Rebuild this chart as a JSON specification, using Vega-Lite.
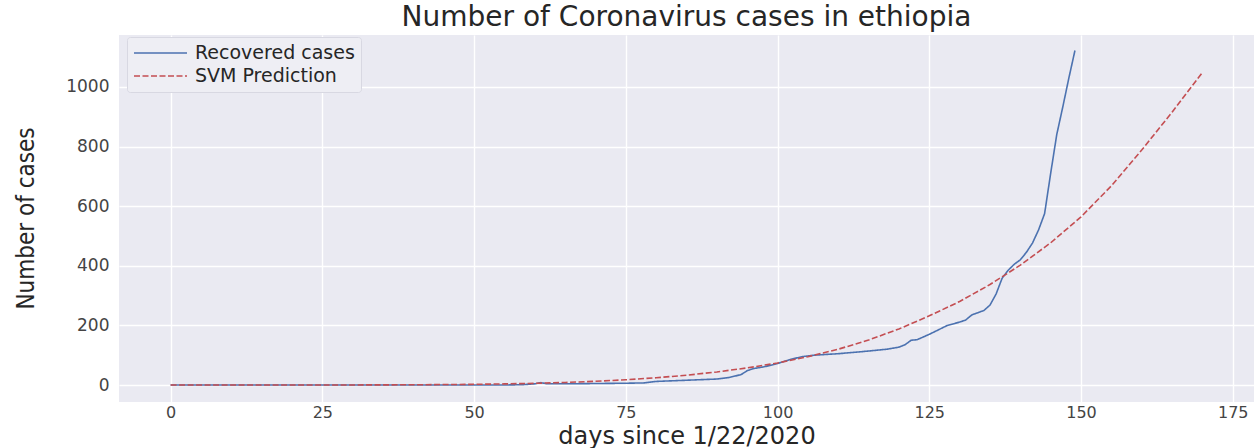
{
  "$schema": "https://vega.github.io/schema/vega-lite/v6.json",
  "autosize": {"type": "none"},
  "padding": {"left": 119, "top": 35, "right": 3, "bottom": 46},
  "width": 1135,
  "height": 367,
  "background": "#ffffff",
  "title": {
    "text": "Number of Coronavirus cases in ethiopia",
    "font": "DejaVu Sans",
    "fontSize": 28,
    "fontWeight": "normal",
    "color": "#262626",
    "anchor": "middle",
    "baseline": "alphabetic",
    "offset": 1,
    "dy": 20
  },
  "data": {
    "values": [
      {"day": 0, "cases": 0, "series": "Recovered cases"},
      {"day": 20, "cases": 0, "series": "Recovered cases"},
      {"day": 40, "cases": 0, "series": "Recovered cases"},
      {"day": 55, "cases": 0, "series": "Recovered cases"},
      {"day": 58, "cases": 1, "series": "Recovered cases"},
      {"day": 60, "cases": 4, "series": "Recovered cases"},
      {"day": 61, "cases": 8, "series": "Recovered cases"},
      {"day": 62, "cases": 4, "series": "Recovered cases"},
      {"day": 65, "cases": 4, "series": "Recovered cases"},
      {"day": 70, "cases": 5, "series": "Recovered cases"},
      {"day": 75, "cases": 6, "series": "Recovered cases"},
      {"day": 78, "cases": 7, "series": "Recovered cases"},
      {"day": 80, "cases": 12, "series": "Recovered cases"},
      {"day": 85, "cases": 16, "series": "Recovered cases"},
      {"day": 90, "cases": 20, "series": "Recovered cases"},
      {"day": 92, "cases": 25, "series": "Recovered cases"},
      {"day": 94, "cases": 35, "series": "Recovered cases"},
      {"day": 95, "cases": 48, "series": "Recovered cases"},
      {"day": 96, "cases": 55, "series": "Recovered cases"},
      {"day": 98, "cases": 62, "series": "Recovered cases"},
      {"day": 100, "cases": 72, "series": "Recovered cases"},
      {"day": 102, "cases": 85, "series": "Recovered cases"},
      {"day": 104, "cases": 95, "series": "Recovered cases"},
      {"day": 106, "cases": 100, "series": "Recovered cases"},
      {"day": 110, "cases": 105, "series": "Recovered cases"},
      {"day": 114, "cases": 112, "series": "Recovered cases"},
      {"day": 118, "cases": 120, "series": "Recovered cases"},
      {"day": 120, "cases": 127, "series": "Recovered cases"},
      {"day": 121, "cases": 135, "series": "Recovered cases"},
      {"day": 122, "cases": 150, "series": "Recovered cases"},
      {"day": 123, "cases": 152, "series": "Recovered cases"},
      {"day": 125, "cases": 170, "series": "Recovered cases"},
      {"day": 127, "cases": 190, "series": "Recovered cases"},
      {"day": 128, "cases": 200, "series": "Recovered cases"},
      {"day": 130, "cases": 211, "series": "Recovered cases"},
      {"day": 131, "cases": 218, "series": "Recovered cases"},
      {"day": 132, "cases": 235, "series": "Recovered cases"},
      {"day": 134, "cases": 250, "series": "Recovered cases"},
      {"day": 135, "cases": 268, "series": "Recovered cases"},
      {"day": 136, "cases": 305, "series": "Recovered cases"},
      {"day": 137, "cases": 358, "series": "Recovered cases"},
      {"day": 138, "cases": 385, "series": "Recovered cases"},
      {"day": 139, "cases": 405, "series": "Recovered cases"},
      {"day": 140, "cases": 420, "series": "Recovered cases"},
      {"day": 141, "cases": 445, "series": "Recovered cases"},
      {"day": 142, "cases": 476, "series": "Recovered cases"},
      {"day": 143, "cases": 520, "series": "Recovered cases"},
      {"day": 144, "cases": 575, "series": "Recovered cases"},
      {"day": 145, "cases": 710, "series": "Recovered cases"},
      {"day": 146, "cases": 840, "series": "Recovered cases"},
      {"day": 147, "cases": 933, "series": "Recovered cases"},
      {"day": 148, "cases": 1030, "series": "Recovered cases"},
      {"day": 149, "cases": 1122, "series": "Recovered cases"},
      {"day": 0, "cases": 0, "series": "SVM Prediction"},
      {"day": 10, "cases": 0, "series": "SVM Prediction"},
      {"day": 20, "cases": 0, "series": "SVM Prediction"},
      {"day": 30, "cases": 0.2, "series": "SVM Prediction"},
      {"day": 40, "cases": 0.8, "series": "SVM Prediction"},
      {"day": 50, "cases": 2.3, "series": "SVM Prediction"},
      {"day": 55, "cases": 3.7, "series": "SVM Prediction"},
      {"day": 60, "cases": 5.7, "series": "SVM Prediction"},
      {"day": 65, "cases": 8.6, "series": "SVM Prediction"},
      {"day": 70, "cases": 12.5, "series": "SVM Prediction"},
      {"day": 75, "cases": 17.5, "series": "SVM Prediction"},
      {"day": 80, "cases": 24.3, "series": "SVM Prediction"},
      {"day": 85, "cases": 32.8, "series": "SVM Prediction"},
      {"day": 90, "cases": 43.8, "series": "SVM Prediction"},
      {"day": 95, "cases": 57.3, "series": "SVM Prediction"},
      {"day": 100, "cases": 74, "series": "SVM Prediction"},
      {"day": 105, "cases": 95, "series": "SVM Prediction"},
      {"day": 110, "cases": 120, "series": "SVM Prediction"},
      {"day": 115, "cases": 151, "series": "SVM Prediction"},
      {"day": 120, "cases": 188, "series": "SVM Prediction"},
      {"day": 125, "cases": 232, "series": "SVM Prediction"},
      {"day": 130, "cases": 280, "series": "SVM Prediction"},
      {"day": 135, "cases": 337, "series": "SVM Prediction"},
      {"day": 140, "cases": 402, "series": "SVM Prediction"},
      {"day": 145, "cases": 477, "series": "SVM Prediction"},
      {"day": 150, "cases": 564, "series": "SVM Prediction"},
      {"day": 155, "cases": 668, "series": "SVM Prediction"},
      {"day": 160, "cases": 788, "series": "SVM Prediction"},
      {"day": 165, "cases": 915, "series": "SVM Prediction"},
      {"day": 170, "cases": 1048, "series": "SVM Prediction"}
    ]
  },
  "mark": {"type": "line", "strokeWidth": 1.6, "clip": true},
  "encoding": {
    "x": {
      "field": "day",
      "type": "quantitative",
      "scale": {"domain": [-8.5, 178.5], "nice": false, "zero": false},
      "axis": {
        "values": [0, 25, 50, 75, 100, 125, 150, 175],
        "format": "d",
        "title": "days since 1/22/2020",
        "titleFont": "DejaVu Sans",
        "titleFontSize": 24,
        "titleFontWeight": "normal",
        "titleColor": "#262626",
        "titleBaseline": "alphabetic",
        "titleAnchor": "middle",
        "titleY": 41
      }
    },
    "y": {
      "field": "cases",
      "type": "quantitative",
      "scale": {"domain": [-57, 1174], "nice": false, "zero": false},
      "axis": {
        "values": [0, 200, 400, 600, 800, 1000],
        "format": "d",
        "title": "Number of cases",
        "titleFont": "DejaVu Sans Condensed, Liberation Sans, sans-serif",
        "titleFontSize": 24,
        "titleFontWeight": "normal",
        "titleColor": "#262626",
        "titleAngle": -90,
        "titleAlign": "center",
        "titleBaseline": "middle",
        "titleX": -93,
        "titleY": 183
      }
    },
    "color": {
      "field": "series",
      "type": "nominal",
      "scale": {"domain": ["Recovered cases", "SVM Prediction"], "range": ["#4c72b0", "#c44e52"]},
      "legend": {
        "title": null,
        "orient": "none",
        "legendX": 8,
        "legendY": 2
      }
    },
    "strokeDash": {
      "field": "series",
      "type": "nominal",
      "scale": {"domain": ["Recovered cases", "SVM Prediction"], "range": [[1, 0], [6, 2.5]]},
      "legend": {
        "title": null,
        "orient": "none",
        "legendX": 8,
        "legendY": 2
      }
    }
  },
  "config": {
    "view": {"fill": "#eaeaf2", "stroke": null},
    "axis": {
      "domain": false,
      "ticks": false,
      "grid": true,
      "gridColor": "#ffffff",
      "gridWidth": 1.4,
      "gridOpacity": 1,
      "labelFont": "DejaVu Sans",
      "labelFontSize": 17,
      "labelColor": "#444444"
    },
    "axisX": {"labelPadding": 2, "labelFontSize": 16},
    "axisY": {"labelPadding": 10},
    "legend": {
      "symbolType": "stroke",
      "symbolSize": 2809,
      "symbolStrokeWidth": 1.6,
      "clipHeight": 20,
      "rowPadding": 3,
      "labelFont": "DejaVu Sans",
      "labelFontSize": 19,
      "labelColor": "#262626",
      "labelOffset": 7,
      "padding": 6,
      "fillColor": "#eeeef4",
      "strokeColor": "#d8d8e2",
      "cornerRadius": 3
    }
  }
}
